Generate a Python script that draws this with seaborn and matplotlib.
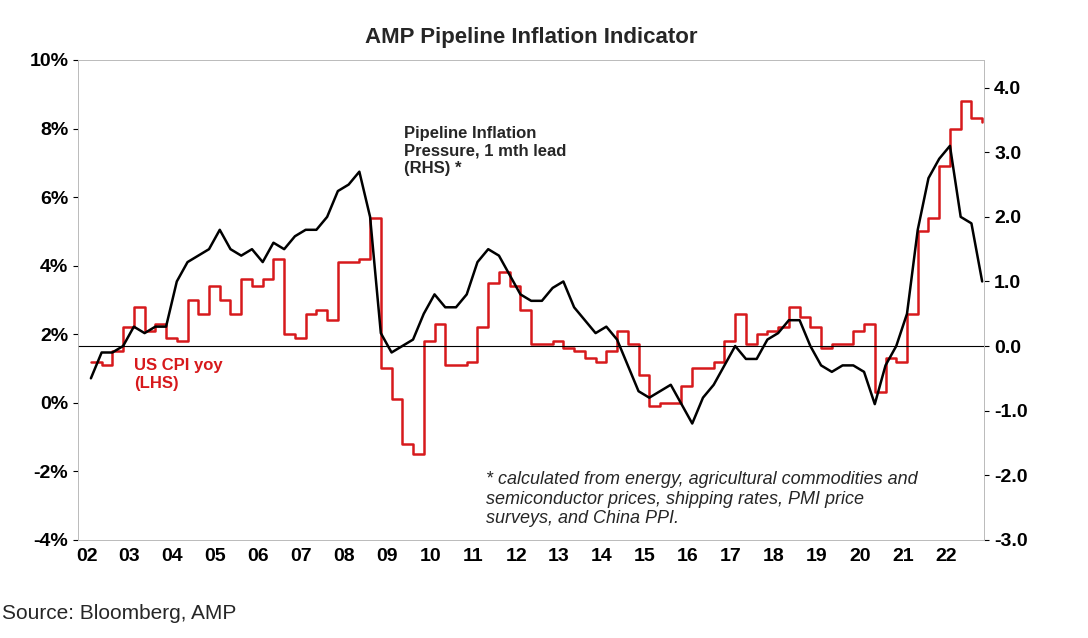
import numpy as np
import matplotlib
matplotlib.use("Agg")
import matplotlib.pyplot as plt
import seaborn as sns
import pandas as pd

sns.set_style("white")
plt.rcParams['font.family'] = ['Liberation Sans', 'DejaVu Sans']

# quarterly readings, 2002Q1 .. 2022Q4
cpi_yoy = [1.2, 1.1, 1.5, 2.2, 2.8, 2.1, 2.3, 1.9, 1.8, 3.0, 2.6, 3.4,
           3.0, 2.6, 3.6, 3.4, 3.6, 4.2, 2.0, 1.9, 2.6, 2.7, 2.4, 4.1,
           4.1, 4.2, 5.4, 1.0, 0.1, -1.2, -1.5, 1.8, 2.3, 1.1, 1.1, 1.2,
           2.2, 3.5, 3.8, 3.4, 2.7, 1.7, 1.7, 1.8, 1.6, 1.5, 1.3, 1.2,
           1.5, 2.1, 1.7, 0.8, -0.1, 0.0, 0.0, 0.5, 1.0, 1.0, 1.2, 1.8,
           2.6, 1.7, 2.0, 2.1, 2.2, 2.8, 2.5, 2.2, 1.6, 1.7, 1.7, 2.1,
           2.3, 0.3, 1.3, 1.2, 2.6, 5.0, 5.4, 6.9, 8.0, 8.8, 8.3, 8.2]
pipeline = [-0.5, -0.1, -0.1, 0.0, 0.3, 0.2, 0.3, 0.3, 1.0, 1.3, 1.4, 1.5,
            1.8, 1.5, 1.4, 1.5, 1.3, 1.6, 1.5, 1.7, 1.8, 1.8, 2.0, 2.4,
            2.5, 2.7, 2.0, 0.2, -0.1, 0.0, 0.1, 0.5, 0.8, 0.6, 0.6, 0.8,
            1.3, 1.5, 1.4, 1.1, 0.8, 0.7, 0.7, 0.9, 1.0, 0.6, 0.4, 0.2,
            0.3, 0.1, -0.3, -0.7, -0.8, -0.7, -0.6, -0.9, -1.2, -0.8, -0.6, -0.3,
            0.0, -0.2, -0.2, 0.1, 0.2, 0.4, 0.4, 0.0, -0.3, -0.4, -0.3, -0.3,
            -0.4, -0.9, -0.3, 0.0, 0.5, 1.8, 2.6, 2.9, 3.1, 2.0, 1.9, 1.0]
years = list(range(2002, 2023))
year_labels = [f"{y % 100:02d}" for y in years]

dates = np.array([y + q * 0.25 + 0.1 for y in years for q in range(4)])
df = pd.DataFrame({"date": dates, "cpi": cpi_yoy, "pipe": pipeline})

fig = plt.figure(figsize=(10.88, 6.38), dpi=100)
ax = fig.add_axes([0.0717, 0.154, 0.833, 0.752])
ax2 = ax.twinx()

sns.lineplot(data=df, x="date", y="cpi", ax=ax, color="#d7191c", lw=1.8,
             drawstyle="steps-post")
sns.lineplot(data=df, x="date", y="pipe", ax=ax2, color="black", lw=1.8)

ax.set_xlim(2001.8, 2022.9)
ax.set_ylim(-4, 10)
ax2.set_ylim(-3, 4.43)
ax2.axhline(0, color="black", lw=0.8)

ax.set_yticks(range(-4, 11, 2))
ax.set_yticklabels([f"{v}%" for v in range(-4, 11, 2)], fontsize=14, fontweight="bold")
ax2.set_yticks(np.arange(-3, 4.5, 1))
ax2.set_yticklabels([f"{v:.1f}" for v in np.arange(-3, 4.5, 1)], fontsize=14, fontweight="bold")
ax.set_xticks(years)
ax.set_xticklabels(year_labels, fontsize=14, fontweight="bold")
ax.tick_params(axis="x", length=0, pad=6)
for a in (ax, ax2):
    a.tick_params(colors="black")
    a.set_xlabel("")
    a.set_ylabel("")
    for s in a.spines.values():
        s.set_color("#bbbbbb")
        s.set_linewidth(0.6)

ax.set_title("AMP Pipeline Inflation Indicator", fontsize=16, fontweight="bold", pad=12)
ax2.text(2009.4, 3.4, "Pipeline Inflation\nPressure, 1 mth lead\n(RHS) *", fontsize=12,
         fontweight="bold", va="top", linespacing=1.2)
ax.text(2003.1, 1.3, "US CPI yoy\n(LHS)", fontsize=12, fontweight="bold",
        color="#d7191c", va="top", linespacing=1.2)
ax.text(2011.3, -2.0, "* calculated from energy, agricultural commodities and\n"
        "semiconductor prices, shipping rates, PMI price\nsurveys, and China PPI.",
        fontsize=13, style="italic", va="top", linespacing=1.2)
fig.text(0.002, 0.03, "Source: Bloomberg, AMP", fontsize=15)

fig.savefig("out.png", dpi=100)
